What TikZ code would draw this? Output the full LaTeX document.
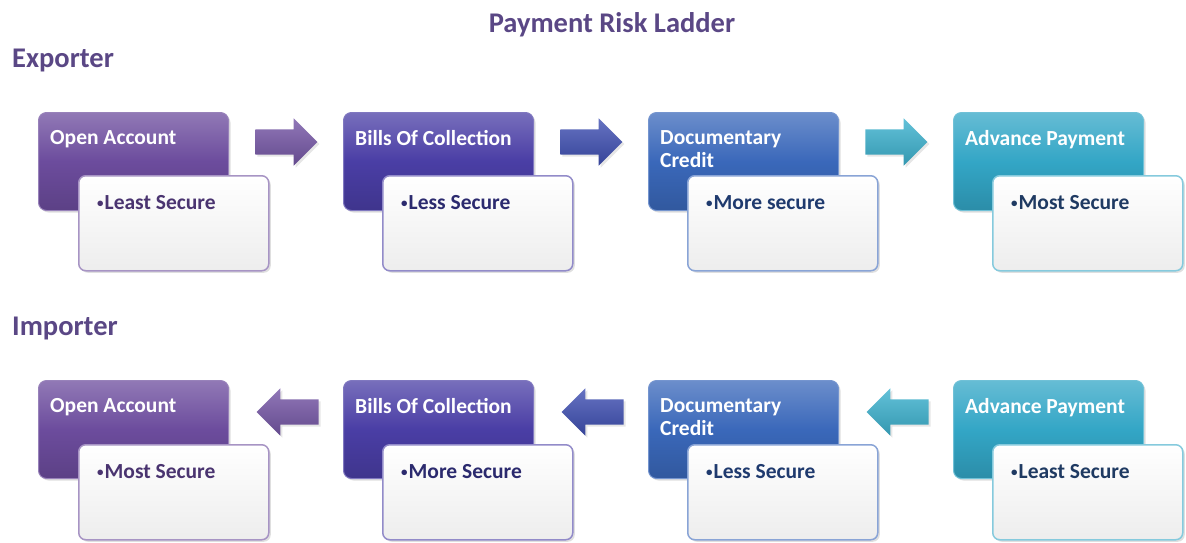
\documentclass[tikz,border=0pt]{standalone}
\usepackage{fontspec}
\setmainfont{Carlito}
\usetikzlibrary{positioning,shapes.arrows,shadows}

\definecolor{violetbox}{HTML}{6C4C9D}
\definecolor{indigobox}{HTML}{4A3EA5}
\definecolor{bluebox}{HTML}{3A68BA}
\definecolor{tealbox}{HTML}{33A6C6}
\definecolor{violetarr}{HTML}{7556A6}
\definecolor{bluearr}{HTML}{3F4FB3}
\definecolor{tealarr}{HTML}{3CB2CF}
\definecolor{headcol}{HTML}{5A4785}
\definecolor{violettxt}{HTML}{4A3470}
\definecolor{indigotxt}{HTML}{2B2A6E}
\definecolor{bluetxt}{HTML}{1F3A6E}
\definecolor{tealtxt}{HTML}{1F3A62}

\newcommand{\bul}{{\fontsize{13}{13}\selectfont\raisebox{1.5pt}{•}}\kern1pt}

\tikzset{
  stage/.style={rounded corners=8pt, minimum width=190pt, minimum height=98pt,
    inner sep=0pt, anchor=north west, draw=#1!70!white, line width=1pt,
    top color=#1!75!white, bottom color=#1!85!black, middle color=#1,
    drop shadow={opacity=0.25, shadow xshift=2pt, shadow yshift=-2pt}},
  detail/.style={rounded corners=7pt, minimum width=190pt, minimum height=95pt,
    inner sep=0pt, anchor=north west, draw=#1!60!white, line width=1.5pt,
    top color=white, bottom color=black!7,
    drop shadow={opacity=0.25, shadow xshift=2pt, shadow yshift=-2pt}},
  stagetxt/.style={text=white, font=\fontsize{21.5}{23}\selectfont\bfseries,
    align=left, inner sep=0pt},
  detailtxt/.style={text=#1, font=\fontsize{21.5}{23}\selectfont\bfseries,
    inner sep=0pt},
  fwd/.style={single arrow, minimum height=62pt, inner xsep=0pt, inner ysep=12.5pt,
    single arrow head extend=11pt,
    top color=#1!80!white, bottom color=#1!85!black,
    drop shadow={opacity=0.2, shadow xshift=2pt, shadow yshift=-2pt}},
  bwd/.style={fwd=#1, shape border rotate=180},
  rolename/.style={text=headcol, font=\fontsize{28.5}{30}\selectfont\bfseries,
    inner sep=0pt}
}

\begin{document}
\begin{tikzpicture}[x=1pt,y=-1pt]
\useasboundingbox (0,0) rectangle (1186,542);

\node[rolename] (title) at (612,25) {Payment Risk Ladder};
\node[rolename, anchor=west] (exp) at (12,60) {Exporter};
\node[rolename, anchor=west] (imp) at (12,328) {Importer};

% exporter row
\node[stage=violetbox] (oa) at (38,112) {};
\node[stagetxt, below right=18pt and 12pt of oa.north west] (oa-t) {Open Account};
\node[detail=violetbox] (oa-d) at (78,175) {};
\node[detailtxt=violettxt, below right=20pt and 19pt of oa-d.north west] (oa-dt) {\bul Least Secure};

\node[stage=indigobox] (bc) at (343,112) {};
\node[stagetxt, below right=18pt and 12pt of bc.north west] (bc-t) {Bills Of Collection};
\node[detail=indigobox] (bc-d) at (382,175) {};
\node[detailtxt=indigotxt, below right=20pt and 19pt of bc-d.north west] (bc-dt) {\bul Less Secure};

\node[stage=bluebox] (dc) at (648,112) {};
\node[stagetxt, below right=18pt and 12pt of dc.north west] (dc-t) {Documentary\\Credit};
\node[detail=bluebox] (dc-d) at (687,175) {};
\node[detailtxt=bluetxt, below right=20pt and 19pt of dc-d.north west] (dc-dt) {\bul More secure};

\node[stage=tealbox] (ap) at (953,112) {};
\node[stagetxt, below right=18pt and 12pt of ap.north west] (ap-t) {Advance Payment};
\node[detail=tealbox] (ap-d) at (992,175) {};
\node[detailtxt=tealtxt, below right=20pt and 19pt of ap-d.north west] (ap-dt) {\bul Most Secure};

\node[fwd=violetarr] (e1) at (280,142) {};
\node[fwd=bluearr] (e2) at (585,142) {};
\node[fwd=tealarr] (e3) at (890,142) {};

% importer row
\node[stage=violetbox] (oa2) at (38,380) {};
\node[stagetxt, below right=18pt and 12pt of oa2.north west] (oa2-t) {Open Account};
\node[detail=violetbox] (oa2-d) at (78,444) {};
\node[detailtxt=violettxt, below right=20pt and 19pt of oa2-d.north west] (oa2-dt) {\bul Most Secure};

\node[stage=indigobox] (bc2) at (343,380) {};
\node[stagetxt, below right=18pt and 12pt of bc2.north west] (bc2-t) {Bills Of Collection};
\node[detail=indigobox] (bc2-d) at (382,444) {};
\node[detailtxt=indigotxt, below right=20pt and 19pt of bc2-d.north west] (bc2-dt) {\bul More Secure};

\node[stage=bluebox] (dc2) at (648,380) {};
\node[stagetxt, below right=18pt and 12pt of dc2.north west] (dc2-t) {Documentary\\Credit};
\node[detail=bluebox] (dc2-d) at (687,444) {};
\node[detailtxt=bluetxt, below right=20pt and 19pt of dc2-d.north west] (dc2-dt) {\bul Less Secure};

\node[stage=tealbox] (ap2) at (953,380) {};
\node[stagetxt, below right=18pt and 12pt of ap2.north west] (ap2-t) {Advance Payment};
\node[detail=tealbox] (ap2-d) at (992,444) {};
\node[detailtxt=tealtxt, below right=20pt and 19pt of ap2-d.north west] (ap2-dt) {\bul Least Secure};

\node[bwd=violetarr] (i1) at (294,412) {};
\node[bwd=bluearr] (i2) at (599,412) {};
\node[bwd=tealarr] (i3) at (904,412) {};
\end{tikzpicture}
\end{document}
